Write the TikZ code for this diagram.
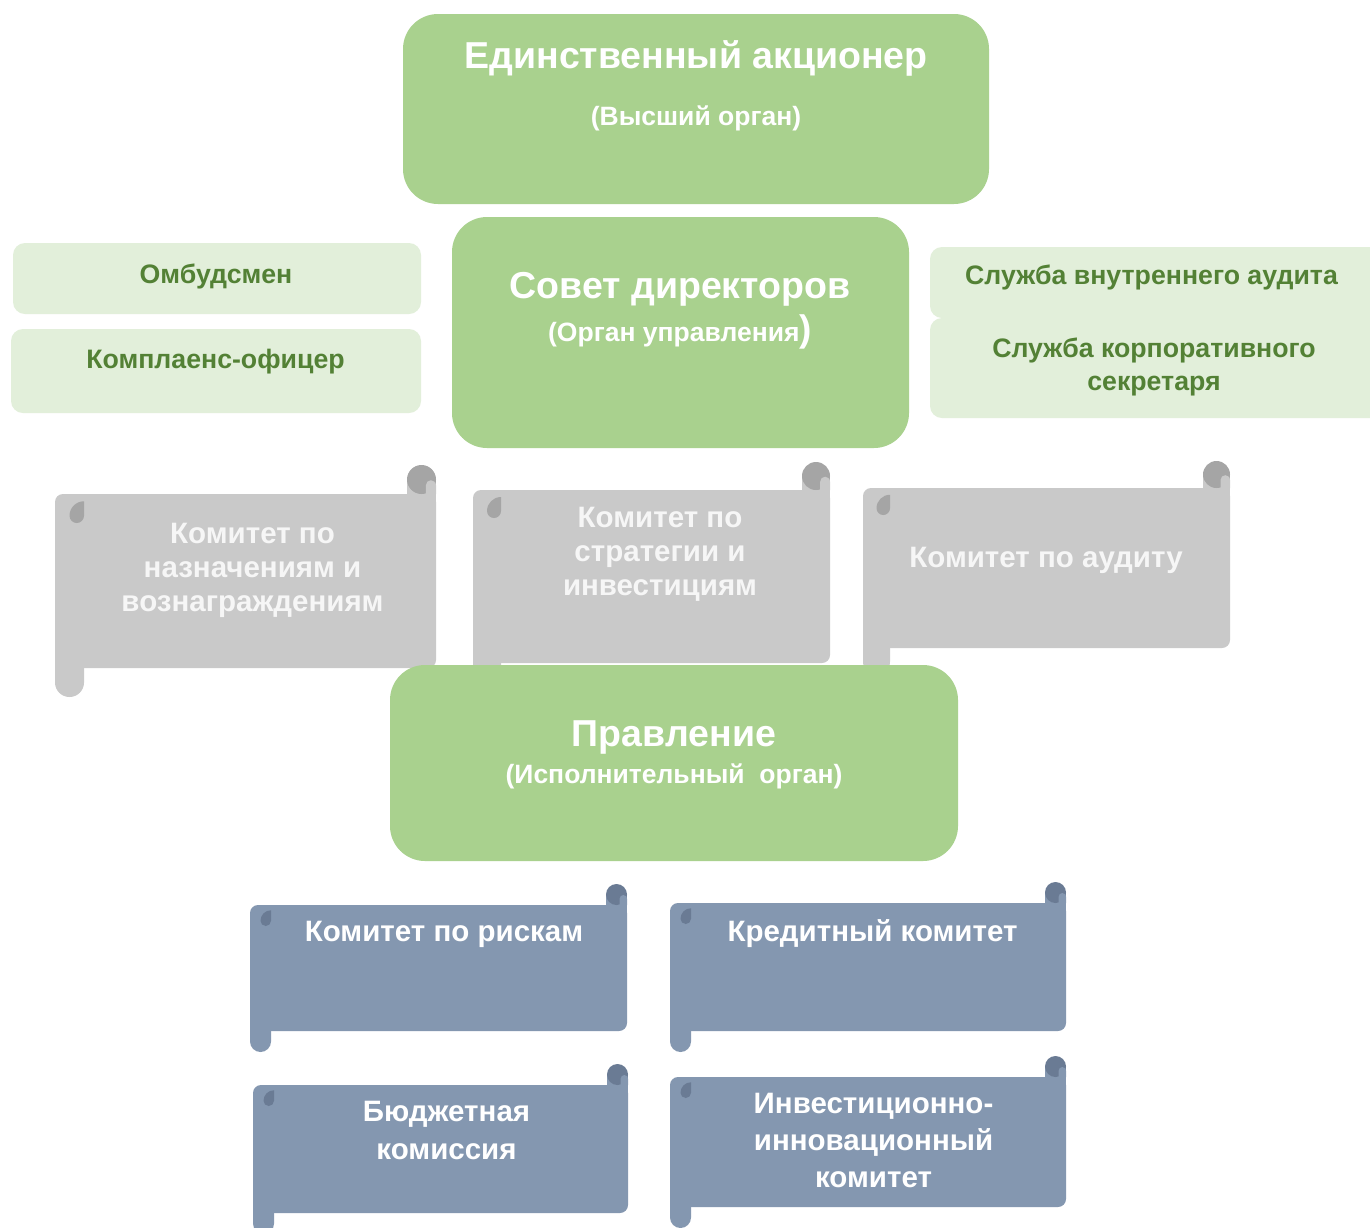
\documentclass[tikz,border=0pt]{standalone}
\usepackage{fontspec}
\setmainfont{Liberation Sans}
\definecolor{gMain}{HTML}{A9D18E}
\definecolor{gLight}{HTML}{E2EFDA}
\definecolor{gText}{HTML}{538135}
\definecolor{grayFill}{HTML}{C9C9C9}
\definecolor{grayDark}{HTML}{A5A5A5}
\definecolor{blueFill}{HTML}{8497B0}
\definecolor{blueDark}{HTML}{6A7B94}
\definecolor{grayText}{HTML}{F6F6F6}
% scroll: x1, y1, x2, y2, ch, fill, dark
\newcommand\scrollshape[7]{%
  \fill[#6] (#1,{#4-#5}) -- (#1,{#4+#5/2}) arc[start angle=180,end angle=0,radius=#5/2] -- ({#1+#5},{#4-#5}) -- cycle;
  \fill[#6] ({#3-#5},{#2-#5/2}) rectangle (#3,{#2+#5});
  \fill[#6, rounded corners=8pt] (#1,#2) rectangle (#3,#4);
  \fill[#7] ({#3-#5/2},{#2-#5/2}) circle[radius=#5/2];
  \fill[#6] ({#3-#5*0.35},#2) -- ({#3-#5*0.35},{#2-#5*0.3}) arc[start angle=180,end angle=360,radius=#5*0.175] -- (#3,#2) -- cycle;
  \fill[#7] ({#1+#5},{#2+#5/4}) arc[start angle=270,end angle=180,radius=#5/2] arc[start angle=180,end angle=0,radius=#5/4] -- cycle;
}
\tikzset{
  bigbox/.style={rectangle, fill=gMain, rounded corners=35pt, inner sep=0pt},
  smallbox/.style={rectangle, fill=gLight, rounded corners=12pt, inner sep=0pt},
  bigtitle/.style={anchor=base, text=white, font=\bfseries\fontsize{37.5}{40}\selectfont, inner sep=0pt},
  subtitle/.style={anchor=base, text=white, font=\bfseries\fontsize{26.5}{30}\selectfont, inner sep=0pt},
  sidetext/.style={anchor=base, text=gText, font=\bfseries\fontsize{26.7}{33}\selectfont, inner sep=0pt, align=center},
  graytext/.style={anchor=base, text=grayText, font=\bfseries\fontsize{29.5}{34}\selectfont, inner sep=0pt, align=center},
  bluetext/.style={anchor=base, text=white, font=\bfseries\fontsize{29.5}{37}\selectfont, inner sep=0pt, align=center},
}
\begin{document}
\begin{tikzpicture}[x=1pt,y=-1pt]
\useasboundingbox (0,0) rectangle (1370,1227);
\clip (0,0) rectangle (1370,1227);
\fill[white] (0,0) rectangle (1370,1227);

% top box
\node[bigbox, minimum width=586pt, minimum height=190pt] (shbox) at (696,109) {};
\node[bigtitle] (shtitle) at (696,68) {Единственный акционер};
\node[subtitle] (shsub) at (696,125) {(Высший орган)};

% side boxes left
\node[smallbox, minimum width=408pt, minimum height=71pt] (ombbox) at (217,278.5) {};
\node[sidetext] (omb) at (216,283) {Омбудсмен};
\node[smallbox, minimum width=410pt, minimum height=84pt] (combox) at (216,371) {};
\node[sidetext] (com) at (215.5,368) {Комплаенс-офицер};

% side boxes right
\node[smallbox, minimum width=460pt, minimum height=71pt] (auditbox) at (1160,282.5) {};
\node[sidetext] (audit) at (1151.5,284) {Служба внутреннего аудита};
\node[smallbox, minimum width=460pt, minimum height=100pt] (secbox) at (1160,368) {};
\node[sidetext] (sec1) at (1154,357) {Служба корпоративного};
\node[sidetext] (sec2) at (1154,390) {секретаря};

% board
\node[bigbox, minimum width=457pt, minimum height=231pt] (sdbox) at (680.5,332.5) {};
\node[bigtitle] (sdtitle) at (680,298) {Совет директоров};
\node[subtitle] (sdsub) at (680,341) {(Орган управления{\fontsize{37}{40}\selectfont )}};

% grey scrolls
\scrollshape{55}{494}{436}{668}{29}{grayFill}{grayDark}
\scrollshape{473}{490}{830}{663}{28}{grayFill}{grayDark}
\scrollshape{863}{488}{1230}{648}{27}{grayFill}{grayDark}
\node[graytext] (k1a) at (252.5,543) {Комитет по};
\node[graytext] (k1b) at (252.5,577) {назначениям и};
\node[graytext] (k1c) at (252.5,611) {вознаграждениям};
\node[graytext] (k2a) at (660,527) {Комитет по};
\node[graytext] (k2b) at (660,561) {стратегии и};
\node[graytext] (k2c) at (660,595) {инвестициям};
\node[graytext] (k3) at (1046,567) {Комитет по аудиту};

% executive board
\node[bigbox, minimum width=568pt, minimum height=196pt] (prbox) at (674,763) {};
\node[bigtitle] (prtitle) at (674,746) {Правление};
\node[subtitle] (prsub) at (674,783) {(Исполнительный\ \ орган)};

% blue scrolls
\scrollshape{250}{905}{627}{1031}{21}{blueFill}{blueDark}
\scrollshape{670}{903}{1066}{1031}{21}{blueFill}{blueDark}
\scrollshape{253}{1085}{628}{1213}{21}{blueFill}{blueDark}
\scrollshape{670}{1077}{1066}{1207}{21}{blueFill}{blueDark}
\node[bluetext] (risk) at (444,941) {Комитет по рискам};
\node[bluetext] (cred) at (872.5,941) {Кредитный комитет};
\node[bluetext] (bud1) at (446.5,1121) {Бюджетная};
\node[bluetext] (bud2) at (446.5,1159) {комиссия};
\node[bluetext] (inv1) at (873.5,1113) {Инвестиционно-};
\node[bluetext] (inv2) at (873.5,1150) {инновационный};
\node[bluetext] (inv3) at (873.5,1187) {комитет};
\end{tikzpicture}
\end{document}
